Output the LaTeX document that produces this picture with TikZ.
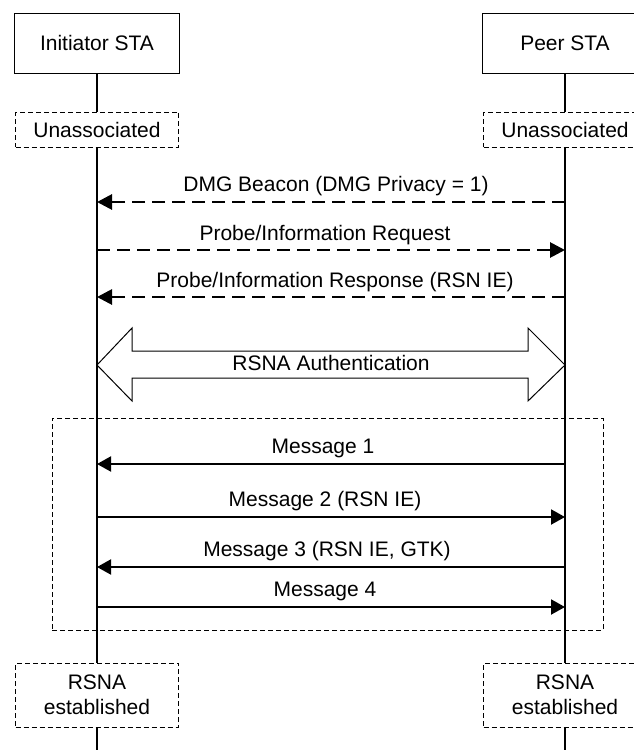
\documentclass[tikz,border=0pt]{standalone}
\usepackage{fontspec}
\setmainfont{Liberation Sans}
\usetikzlibrary{arrows.meta}
\begin{document}
\begin{tikzpicture}[x=1pt,y=-1pt,
  every node/.style={font=\fontsize{21}{25}\selectfont},
  actor/.style={draw,line width=1pt,minimum width=165pt,minimum height=60pt,inner sep=0pt,fill=white},
  state/.style={draw,dash pattern=on 5pt off 3pt,line width=1pt,minimum width=163pt,inner sep=0pt,fill=white,align=center},
  life/.style={line width=1.6pt},
  dmsg/.style={line width=2.8pt,dash pattern=on 13pt off 7pt,-{Triangle[length=15pt,width=15pt]}},
  smsg/.style={line width=2pt,-{Triangle[length=14pt,width=15pt]}}]
\useasboundingbox (0,0) rectangle (634,750);
\clip (0,0) rectangle (634,750);
\fill[white] (0,0) rectangle (634,750);
% actors
\node[actor] (ini) at (97,43) {Initiator STA};
\node[actor] (peer) at (565,43) {Peer STA};
\node[state,minimum height=35pt] (iu) at (97,129.5) {Unassociated};
\node[state,minimum height=35pt] (pu) at (565,129.5) {Unassociated};
\node[state,minimum height=64pt] (ie) at (97,695) {RSNA\\established};
\node[state,minimum height=64pt] (pe) at (565,695) {RSNA\\established};
\coordinate (iend) at (97,752);
\coordinate (pend) at (565,752);
% frame
\node[draw,dash pattern=on 5pt off 3pt,line width=1pt,minimum width=551pt,minimum height=212pt,inner sep=0pt] (frame) at (327.5,524) {};
% lifelines
\draw[life] (ini.south) -- (iu.north);
\draw[life] (peer.south) -- (pu.north);
\draw[life] (iu.south) -- (ie.north);
\draw[life] (pu.south) -- (pe.north);
\draw[life] (ie.south) -- (iend);
\draw[life] (pe.south) -- (pend);
% coordinates on lifelines
\foreach \n/\y in {1/202,2/250,3/297,4/464,5/517,6/567,7/607}{
  \coordinate (L\n) at (97,\y);
  \coordinate (R\n) at (565,\y);
}
% dashed messages
\draw[dmsg] (R1) -- (L1);
\node at (336,186) (t1) {DMG Beacon (DMG Privacy = 1)};
\draw[dmsg] (L2) -- (R2);
\node at (325,235) (t2) {Probe/Information Request};
\draw[dmsg] (R3) -- (L3);
\node at (335,282) (t3) {Probe/Information Response (RSN IE)};
% RSNA Authentication double arrow
\coordinate (AL) at (97,365);
\coordinate (AR) at (565,365);
\draw[line width=1pt,fill=white] (AL) -- (132,328) -- (132,351) -- (528,351) -- (528,328) -- (AR)
  -- (528,401) -- (528,378) -- (132,378) -- (132,401) -- cycle;
\node at (331,363) (t4) {RSNA Authentication};
% solid messages
\draw[smsg] (R4) -- (L4);
\node at (323,448) (t5) {Message 1};
\draw[smsg] (L5) -- (R5);
\node at (325,501) (t6) {Message 2 (RSN IE)};
\draw[smsg] (R6) -- (L6);
\node at (327,551) (t7) {Message 3 (RSN IE, GTK)};
\draw[smsg] (L7) -- (R7);
\node at (325,591) (t8) {Message 4};
\end{tikzpicture}
\end{document}
